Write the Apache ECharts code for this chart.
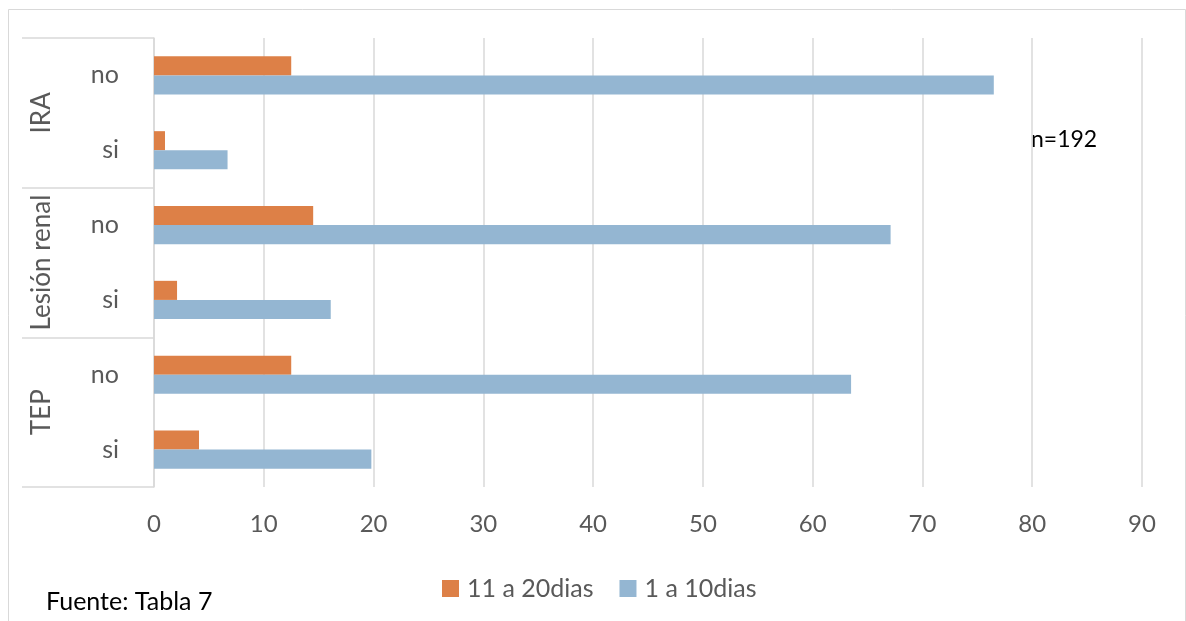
<!DOCTYPE html>
<html>
<head>
<meta charset="utf-8">
<script src="https://cdn.jsdelivr.net/npm/echarts@6/dist/echarts.min.js"></script>
<style>
  html, body { margin: 0; padding: 0; background: #ffffff; }
  #chart { width: 1186px; height: 621px; }
</style>
</head>
<body>
<div id="chart"></div>
<script>
// Rows, bottom to top: group|answer
const groups = ['TEP', 'Lesión renal', 'IRA'];
const rows = ['TEP|si', 'TEP|no', 'Lesión renal|si', 'Lesión renal|no', 'IRA|si', 'IRA|no'];
const seriesNames = ['11 a 20dias', '1 a 10dias'];
const days11to20 = [4.1, 12.5, 2.1, 14.5, 1.0, 12.5];
const days1to10 = [19.8, 63.5, 16.1, 67.1, 6.7, 76.5];
const xTicks = { min: 0, max: 90, interval: 10 };
const sampleNote = 'n=192';
const sourceNote = 'Fuente: Tabla 7';

const FONT = 'Lato, "Open Sans", sans-serif';
const GREY_TEXT = '#595959';
const GRID_LINE = '#d9d9d9';

const chart = echarts.init(document.getElementById('chart'), null, { renderer: 'canvas' });

chart.setOption({
  backgroundColor: '#ffffff',
  animation: false,
  textStyle: { fontFamily: FONT },
  grid: { left: 154, right: 44, top: 38, bottom: 134, containLabel: false },
  legend: {
    data: seriesNames,
    left: 437,
    top: 571,
    itemWidth: 17,
    itemHeight: 17,
    itemGap: 26,
    icon: 'rect',
    textStyle: { fontFamily: FONT, fontSize: 25, color: GREY_TEXT, padding: [0, 0, 0, 3] }
  },
  xAxis: {
    type: 'value',
    min: xTicks.min,
    max: xTicks.max,
    interval: xTicks.interval,
    axisLine: { show: false },
    axisTick: { show: false },
    splitLine: { show: true, lineStyle: { color: GRID_LINE, width: 1.5 } },
    axisLabel: { fontFamily: FONT, fontSize: 24, color: GREY_TEXT, margin: 25 }
  },
  yAxis: [
    {
      type: 'category',
      data: rows,
      position: 'left',
      axisLine: { show: true, lineStyle: { color: GRID_LINE, width: 1.5 } },
      axisTick: { show: false },
      splitLine: { show: false },
      axisLabel: {
        fontFamily: FONT, fontSize: 25, color: GREY_TEXT, margin: 35, interval: 0,
        formatter: v => v.split('|')[1]
      }
    },
    {
      // group labels with separator lines between groups
      type: 'category',
      data: groups,
      position: 'left',
      offset: 0,
      axisLine: { show: false },
      axisTick: { show: true, interval: 0, length: 132, lineStyle: { color: GRID_LINE, width: 1.5 } },
      splitLine: { show: false },
      axisLabel: {
        fontFamily: FONT, fontSize: 26, color: GREY_TEXT, rotate: 90, margin: 99,
        interval: 0, hideOverlap: false
      }
    }
  ],
  series: [
    {
      name: seriesNames[0],
      type: 'bar',
      yAxisIndex: 0,
      data: days11to20,
      itemStyle: { color: '#dd8047' },
      barGap: '0%',
      barCategoryGap: '49%'
    },
    {
      name: seriesNames[1],
      type: 'bar',
      yAxisIndex: 0,
      data: days1to10,
      itemStyle: { color: '#94b6d2' },
      barGap: '0%',
      barCategoryGap: '49%'
    }
  ],
  graphic: [
    {
      type: 'rect',
      silent: true,
      shape: { x: 8.5, y: 9.5, width: 1177, height: 700 },
      style: { fill: 'none', stroke: GRID_LINE, lineWidth: 1 }
    },
    {
      type: 'text',
      left: 1031,
      top: 128,
      style: { text: sampleNote, fontFamily: FONT, fontSize: 23, fill: '#000000' }
    },
    {
      type: 'text',
      left: 46,
      top: 589,
      style: { text: sourceNote, fontFamily: FONT, fontSize: 25, fill: '#000000' }
    }
  ]
});
</script>
</body>
</html>
